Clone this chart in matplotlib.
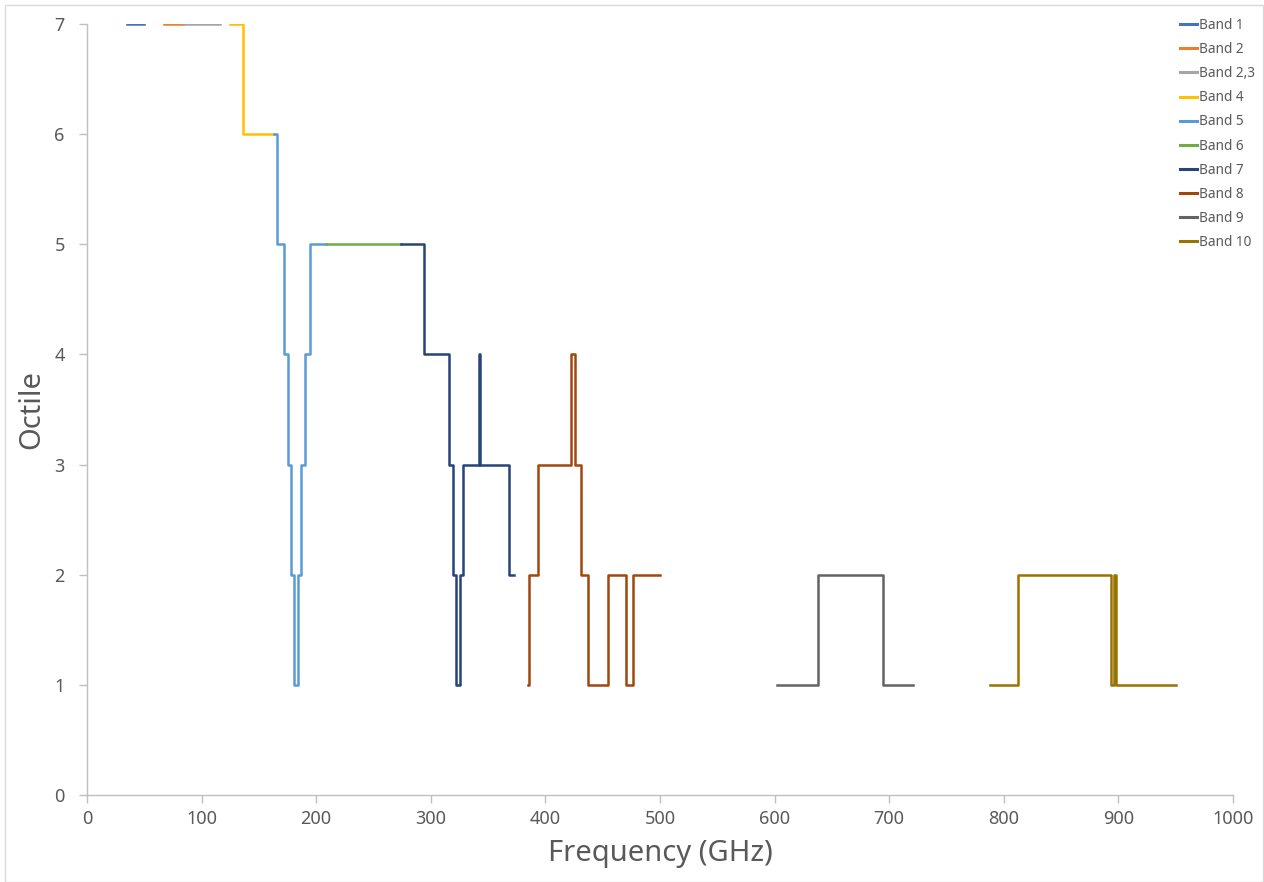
import matplotlib
matplotlib.use("Agg")
import matplotlib.pyplot as plt
from matplotlib.patches import Rectangle

plt.rcParams['font.family'] = ['Noto Sans', 'DejaVu Sans']

# band edges (GHz) and octile per segment
band1_f = [35, 50]
band1_o = [7]
band2_f = [67, 84]
band2_o = [7]
band23_f = [84, 116]
band23_o = [7]
band4_f = [125, 136, 163]
band4_o = [7, 6]
band5_f = [163, 166, 172, 175, 178, 181, 184, 187, 190, 195, 209]
band5_o = [6, 5, 4, 3, 2, 1, 2, 3, 4, 5]
band6_f = [209, 274]
band6_o = [5]
band7_f = [274, 294.5, 315.5, 319, 322, 325.5, 328.5, 342, 343, 368.5, 373]
band7_o = [5, 4, 3, 2, 1, 2, 3, 4, 3, 2]
band8_f = [385, 386, 393.5, 422.5, 426, 431, 437, 454.5, 470.5, 476.5, 500]
band8_o = [1, 2, 3, 4, 3, 2, 1, 2, 1, 2]
band9_f = [602, 637.5, 695, 720.5]
band9_o = [1, 2, 1]
band10_f = [788, 812, 893.5, 896, 898, 950]
band10_o = [1, 2, 1, 2, 1]

bands = [
    ("Band 1", band1_f, band1_o, "#4472C4"),
    ("Band 2", band2_f, band2_o, "#ED7D31"),
    ("Band 2,3", band23_f, band23_o, "#A5A5A5"),
    ("Band 4", band4_f, band4_o, "#FFC000"),
    ("Band 5", band5_f, band5_o, "#5B9BD5"),
    ("Band 6", band6_f, band6_o, "#70AD47"),
    ("Band 7", band7_f, band7_o, "#264478"),
    ("Band 8", band8_f, band8_o, "#9E480E"),
    ("Band 9", band9_f, band9_o, "#636363"),
    ("Band 10", band10_f, band10_o, "#997300"),
]

txt = "#595959"
grid = "#BFBFBF"

fig = plt.figure(figsize=(12.64, 8.82), dpi=100)
fig.patches.append(Rectangle((0.004, 0.0), 0.995, 0.994, transform=fig.transFigure,
                             fill=False, edgecolor="#D9D9D9", lw=1))
ax = fig.add_axes([0.0688, 0.0986, 0.9067, 0.8742])

for name, f, o, c in bands:
    ax.plot(f, o + [o[-1]], drawstyle="steps-post", color=c, lw=1.8, label=name)

ax.set_xlim(0, 1000)
ax.set_ylim(0, 7)
ax.set_xticks(range(0, 1001, 100))
ax.set_yticks(range(0, 8))
for s in ["top", "right"]:
    ax.spines[s].set_visible(False)
for s in ["left", "bottom"]:
    ax.spines[s].set_color(grid)
    ax.spines[s].set_linewidth(1)
ax.tick_params(colors=grid, labelcolor=txt, labelsize=13, length=6, width=1)
ax.tick_params(axis="x", pad=5)
ax.tick_params(axis="y", pad=10)

ax.set_xlabel("Frequency (GHz)", fontsize=21, color=txt, labelpad=8)
ax.set_ylabel("Octile", fontsize=21, color=txt, labelpad=6)

leg = ax.legend(loc="upper left", frameon=False,
                fontsize=9.8, labelcolor=txt, handlelength=1.25, handletextpad=0.15,
                labelspacing=0.67, borderaxespad=0, borderpad=0)
for h in leg.get_lines():
    h.set_linewidth(2.2)
leg.set_bbox_to_anchor((1180 / 1264, 1 - 18 / 882), transform=fig.transFigure)

fig.savefig("out.png", dpi=100)
